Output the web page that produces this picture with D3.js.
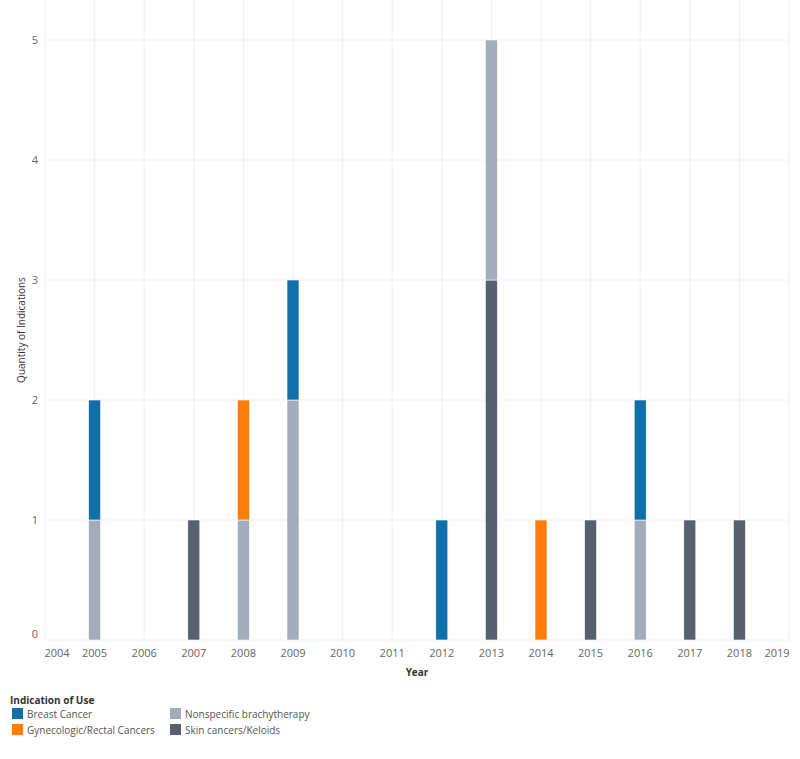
<!DOCTYPE html>
<html><head><meta charset="utf-8">
<script src="https://cdn.jsdelivr.net/npm/d3@7"></script>
<style>body{margin:0;background:#fff;font-family:"Open Sans","Noto Sans",sans-serif;}</style>
</head><body>
<svg id="c" width="800" height="759"></svg>
<script>
const years = [2004,2005,2006,2007,2008,2009,2010,2011,2012,2013,2014,2015,2016,2017,2018,2019];
const categories = ["Skin cancers/Keloids","Nonspecific brachytherapy","Gynecologic/Rectal Cancers","Breast Cancer"];
const colors = ["#57606c","#a3acb9","#fc7d0b","#1170aa"];
const skin        = [0,0,0,1,0,0,0,0,0,3,0,1,0,1,1,0];
const nonspecific = [0,1,0,0,1,2,0,0,0,2,0,0,1,0,0,0];
const gyn         = [0,0,0,0,1,0,0,0,0,0,1,0,0,0,0,0];
const breast      = [0,1,0,0,0,1,0,0,1,0,0,0,1,0,0,0];
const yTicks = [0,1,2,3,4,5];
const legendOrder = ["Breast Cancer","Gynecologic/Rectal Cancers","Nonspecific brachytherapy","Skin cancers/Keloids"];

const series = [skin, nonspecific, gyn, breast];
const rows = years.map((y,i)=>{const r={year:y}; categories.forEach((c,k)=>r[c]=series[k][i]); return r;});
const stack = d3.stack().keys(categories)(rows);
const color = d3.scaleOrdinal().domain(categories).range(colors);

const svg = d3.select("#c");
const L=45, R=789, T=40, B=640;
const x = d3.scaleLinear().domain([2004,2019]).range([L,R]);
const y = d3.scaleLinear().domain([0,5]).range([B,T]);

// grid
svg.append("g").selectAll("line").data(years).join("line")
  .attr("x1",d=>x(d)).attr("x2",d=>x(d)).attr("y1",T-40).attr("y2",B)
  .attr("stroke","#f0f0f0").attr("stroke-width",1);
svg.append("g").selectAll("line").data(yTicks).join("line")
  .attr("x1",L).attr("x2",R).attr("y1",d=>y(d)).attr("y2",d=>y(d))
  .attr("stroke","#f0f0f0").attr("stroke-width",1);

// bars
const bw = 12;
svg.append("g").selectAll("g").data(stack).join("g").attr("fill",d=>color(d.key))
  .selectAll("rect").data(d=>d.filter(p=>p[1]-p[0]>0)).join("rect")
  .attr("x",d=>x(d.data.year)-bw/2).attr("width",bw)
  .attr("y",d=>y(d[1])).attr("height",d=>y(d[0])-y(d[1]))
  .attr("stroke","#fff").attr("stroke-width",0.6);

// y labels
svg.append("g").selectAll("text").data(yTicks).join("text")
  .attr("x",38).attr("y",d=>y(d)+(d===0?-2:4)).attr("text-anchor","end")
  .attr("font-size",11).attr("fill","#666").text(d=>d);

// x labels
svg.append("g").selectAll("text").data(years).join("text")
  .attr("x",d=> d===2004 ? x(d)+12 : d===2019 ? x(d)-12 : x(d))
  .attr("y",657).attr("text-anchor","middle")
  .attr("font-size",11).attr("fill","#666").text(d=>d);

// axis titles
svg.append("text").attr("transform","translate(25,330) rotate(-90)")
  .attr("text-anchor","middle").attr("font-size",10).attr("fill","#333").text("Quantity of Indications");
svg.append("text").attr("x",417).attr("y",676).attr("text-anchor","middle")
  .attr("font-size",10).attr("font-weight","bold").attr("fill","#333").text("Year");

// legend
svg.append("text").attr("x",10).attr("y",704).attr("font-size",10).attr("font-weight","bold")
  .attr("fill","#333").text("Indication of Use");
const lg = svg.append("g").selectAll("g").data(legendOrder).join("g")
  .attr("transform",(d,i)=>`translate(${i<2?12:170},${708+(i%2)*16})`);
lg.append("rect").attr("width",11).attr("height",11).attr("fill",d=>color(d));
lg.append("text").attr("x",15).attr("y",9.5).attr("font-size",10).attr("fill","#555").text(d=>d);
</script>
</body></html>
